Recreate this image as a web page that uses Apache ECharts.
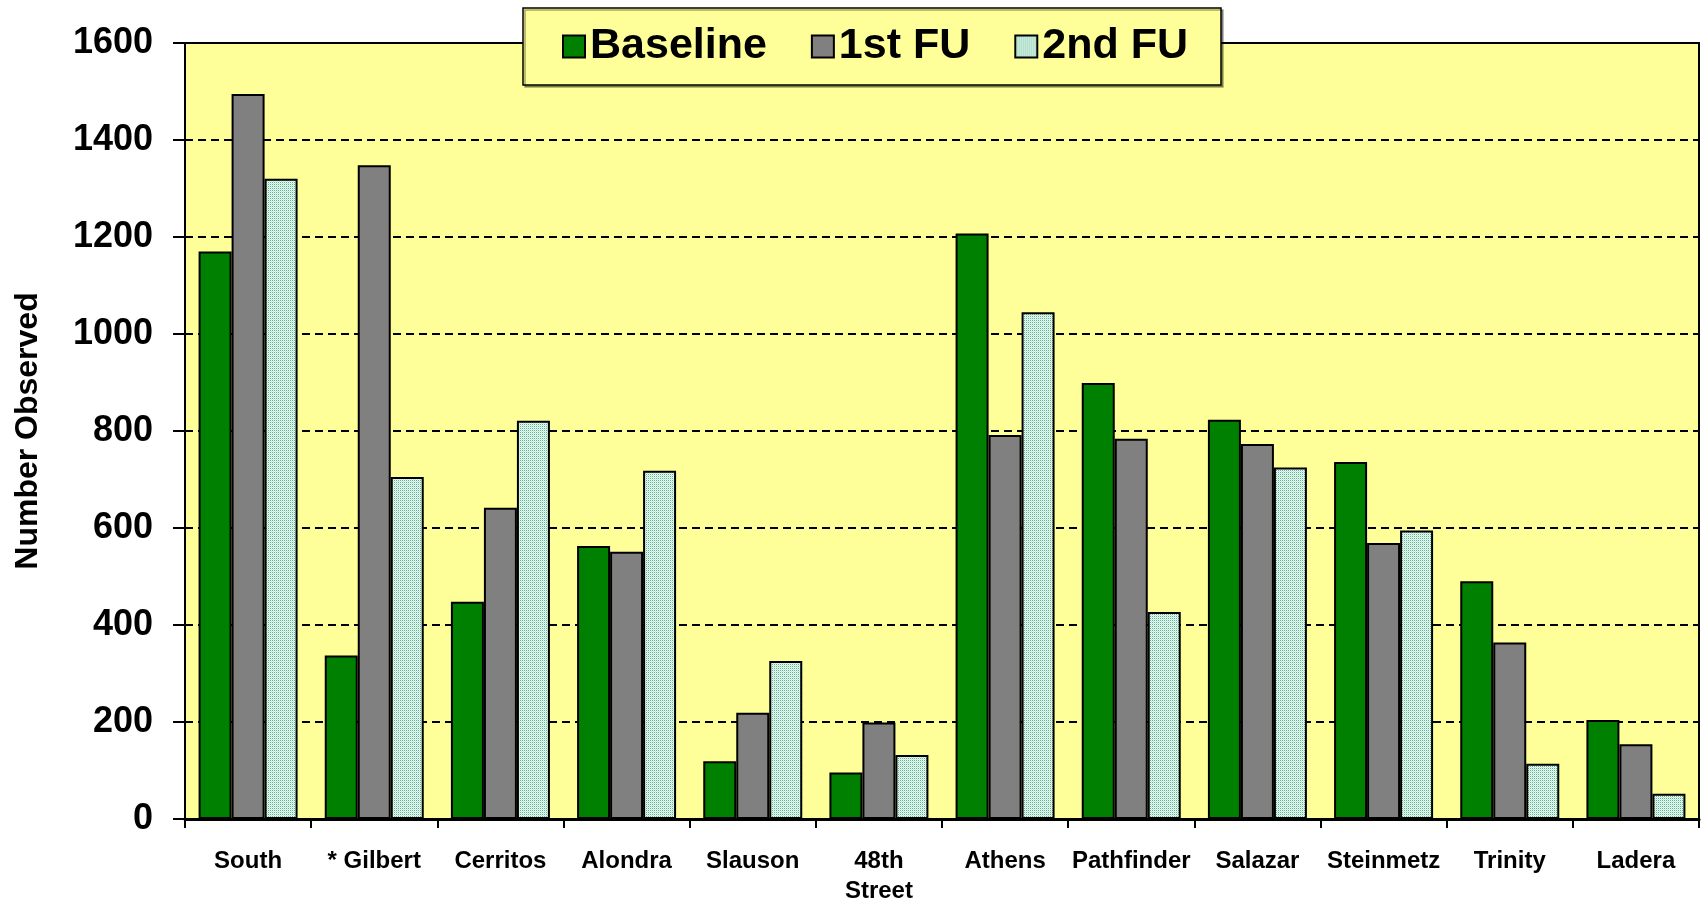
<!DOCTYPE html>
<html>
<head>
<meta charset="utf-8">
<script src="https://cdn.jsdelivr.net/npm/echarts@6/dist/echarts.min.js"></script>
<style>
  html, body { margin: 0; padding: 0; background: #ffffff; }
  #chart { width: 1706px; height: 906px; }
</style>
</head>
<body>
<div id="chart"></div>
<script>
// ---- data ----
const categories = ['South', '* Gilbert', 'Cerritos', 'Alondra', 'Slauson', '48th\nStreet', 'Athens', 'Pathfinder', 'Salazar', 'Steinmetz', 'Trinity', 'Ladera'];
const seriesNames = ['Baseline', '1st FU', '2nd FU'];
const baseline = [1170, 337, 448, 563, 119, 96, 1207, 899, 823, 736, 490, 204];
const firstFU  = [1495, 1348, 642, 551, 219, 199, 792, 784, 773, 569, 364, 154];
const secondFU = [1320, 705, 821, 718, 326, 132, 1045, 427, 725, 595, 114, 52];
const yTicks = { min: 0, max: 1600, interval: 200 };

// dotted pattern for 2nd FU
function makePattern() {
  const c = document.createElement('canvas');
  c.width = 2; c.height = 2;
  const ctx = c.getContext('2d');
  ctx.fillStyle = '#eafaf2';
  ctx.fillRect(0, 0, 2, 2);
  ctx.fillStyle = '#5cb595';
  ctx.fillRect(0, 0, 1, 1);
  ctx.fillStyle = '#c4e8d8';
  ctx.fillRect(1, 1, 1, 1);
  return c;
}
const pattern = { image: makePattern(), repeat: 'repeat' };

const FONT = 'Arial, "Liberation Sans", sans-serif';
const chart = echarts.init(document.getElementById('chart'), null, { renderer: 'canvas' });

const barStyle = (color) => ({
  color: color,
  borderColor: '#000000',
  borderWidth: 2
});

chart.setOption({
  animation: false,
  backgroundColor: '#ffffff',
  grid: {
    left: 185, right: 7, top: 43, bottom: 85,
    show: true,
    backgroundColor: '#ffff99',
    borderColor: '#000000',
    borderWidth: 2,
    containLabel: false
  },
  legend: {
    data: seriesNames.map(n => ({ name: n, icon: 'rect' })),
    left: 523,
    top: 8,
    orient: 'horizontal',
    padding: [17, 33, 17, 39],
    itemGap: 44,
    itemWidth: 22,
    itemHeight: 22,
    backgroundColor: '#ffff99',
    borderColor: '#000000',
    borderWidth: 1.5,
    shadowColor: 'rgba(0,0,0,0.35)',
    shadowOffsetX: 2,
    shadowOffsetY: 2,
    shadowBlur: 0,
    textStyle: { fontFamily: FONT, fontWeight: 'bold', fontSize: 43, color: '#000' },
    selectedMode: false
  },
  xAxis: {
    type: 'category',
    data: categories,
    axisLine: { show: true, lineStyle: { color: '#000', width: 3 } },
    axisTick: { show: true, length: 9, lineStyle: { color: '#000', width: 2 } },
    axisLabel: {
      fontFamily: FONT, fontWeight: 'bold', fontSize: 24, color: '#000',
      margin: 27, lineHeight: 30, interval: 0
    },
    splitLine: { show: false }
  },
  yAxis: {
    type: 'value',
    min: yTicks.min, max: yTicks.max, interval: yTicks.interval,
    name: 'Number Observed',
    nameLocation: 'middle',
    nameGap: 141,
    nameTextStyle: { fontFamily: FONT, fontWeight: 'bold', fontSize: 32, color: '#000' },
    axisLine: { show: true, lineStyle: { color: '#000', width: 2 } },
    axisTick: { show: true, length: 12, lineStyle: { color: '#000', width: 2 } },
    axisLabel: {
      fontFamily: FONT, fontWeight: 'bold', fontSize: 36, color: '#000', margin: 32,
      formatter: (v) => String(v)
    },
    splitLine: { show: true, lineStyle: { color: '#000', width: 2, type: [8, 5] } }
  },
  series: [
    { name: seriesNames[0], type: 'bar', data: baseline, barWidth: 33, barGap: '0%', itemStyle: barStyle('#008000') },
    { name: seriesNames[1], type: 'bar', data: firstFU, barWidth: 33, barGap: '0%', itemStyle: barStyle('#808080') },
    { name: seriesNames[2], type: 'bar', data: secondFU, barWidth: 33, barGap: '0%', itemStyle: barStyle(pattern) }
  ]
});
</script>
</body>
</html>
